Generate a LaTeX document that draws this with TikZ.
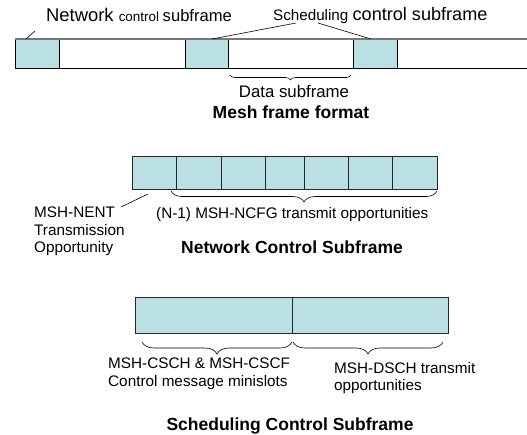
\documentclass[tikz,border=0pt]{standalone}
\usepackage{fontspec}
\setmainfont{Liberation Sans}
\usetikzlibrary{decorations.pathreplacing}
\definecolor{slotfill}{RGB}{187,224,227}
\definecolor{rimgray}{RGB}{120,120,120}
\newcommand{\fs}[1]{\fontsize{#1}{#1}\selectfont}
\begin{document}
\begin{tikzpicture}[x=1pt,y=-1pt,
  slot/.style={fill=slotfill, draw=none, inner sep=0, outer sep=0, anchor=north west},
  cell/.style={fill=slotfill, draw=black!85, line width=0.9pt, inner sep=0, outer sep=0, anchor=north west},
  edge/.style={line width=0.9pt, black},
  lead/.style={line width=0.6pt, black},
  curly/.style={decorate, decoration={brace, mirror, amplitude=#1}, line width=0.6pt},
  lbl/.style={inner sep=0, anchor=base west, font=\fontsize{15.3}{18.5}\selectfont},
  multi/.style={inner sep=0, anchor=north west, align=left, font=\fontsize{15.3}{17.5}\selectfont},
  heading/.style={inner sep=0, anchor=base, font=\fontsize{17.5}{20}\selectfont\bfseries}
]
\useasboundingbox (0,0) rectangle (527,434);

% ---------------- Mesh frame ----------------
\node[slot, minimum width=44, minimum height=29] (nc)  at (15,39)  {};
\node[slot, minimum width=43, minimum height=29] (sc1) at (185,39) {};
\node[slot, minimum width=44, minimum height=29] (sc2) at (353,39) {};
\coordinate (frameend) at (527,39);
\coordinate (frameendb) at (527,68);
\draw[edge] (nc.south west) -- (frameendb);
\foreach \b in {nc,sc1,sc2}{
  \draw[edge] (\b.north west) -- (\b.south west);
  \draw[edge] (\b.north east) -- (\b.south east);
}
\draw[line width=1.6pt, rimgray] (nc.north west) -- (frameend);

\node[inner sep=0, anchor=base west] (nclabel) at (46,21)
  {\fs{18.4}Network \fs{13.4}control \fs{16.6}subframe};
\node[inner sep=0, anchor=base west] (sclabel) at (273,20)
  {\fs{15.2}Scheduling \fs{18.1}control subframe};
\coordinate (ncfoot) at (26,39);
\coordinate (nctip) at (35,31);
\draw[lead] (ncfoot) -- (nctip);
\coordinate (sc1foot) at (212,39);
\coordinate (sc2foot) at (371,39);
\coordinate (sctipa) at (296,23);
\coordinate (sctipb) at (318,23);
\draw[lead] (sc1foot) -- (sctipa);
\draw[lead] (sc2foot) -- (sctipb);

\coordinate (dsa) at (230,75);
\coordinate (dsb) at (351,75);
\draw[curly=5] (dsa) -- (dsb);
\node[inner sep=0, anchor=base] (dslabel) at (294,97) {\fs{16.8}Data subframe};
\node[heading] (meshtitle) at (291,118) {Mesh frame format};

% ---------------- Network control subframe ----------------
\foreach \n/\xa/\xb in {1/132/176, 2/176/221, 3/221/265, 4/265/304, 5/304/348, 6/348/392, 7/392/437}{
  \node[cell, minimum width={\xb-\xa}, minimum height=33] (ncs\n) at (\xa,156) {};
}
\coordinate (ncbra) at (171,191);
\coordinate (ncbrb) at (437,191);
\draw[curly=11] (ncbra) -- (ncbrb);
\node[lbl] (ncfglabel) at (156,218) {(N-1) MSH-NCFG transmit opportunities};
\node[multi] (nentlabel) at (34,207) {MSH-NENT\\Transmission\\Opportunity};
\coordinate (nentfoot) at (148,194);
\coordinate (nenttip) at (121,207);
\draw[lead] (nentfoot) -- (nenttip);
\node[heading] (nctitle) at (292,253) {Network Control Subframe};

% ---------------- Scheduling control subframe ----------------
\node[cell, minimum width=157, minimum height=36] (csleft)  at (135,297) {};
\node[cell, minimum width=156, minimum height=36] (csright) at (292,297) {};
\coordinate (csla) at (142,342);
\coordinate (cslb) at (292,342);
\coordinate (csra) at (293,342);
\coordinate (csrb) at (443,342);
\draw[curly=12] (csla) -- (cslb);
\draw[curly=12] (csra) -- (csrb);
\node[multi] (cschlabel) at (108,358) {MSH-CSCH \& MSH-CSCF\\Control message minislots};
\node[multi] (dschlabel) at (334,362) {MSH-DSCH transmit\\opportunities};
\node[heading] (sctitle) at (290,430) {Scheduling Control Subframe};
\end{tikzpicture}
\end{document}
